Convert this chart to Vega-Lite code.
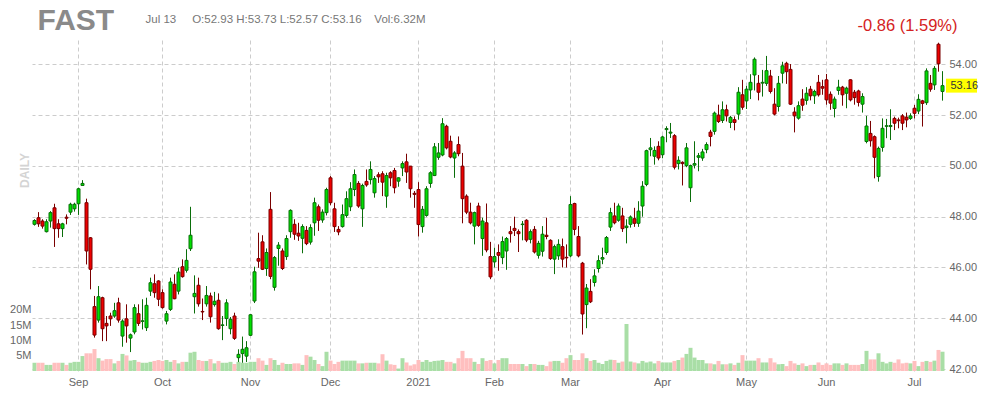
{
  "$schema": "https://vega.github.io/schema/vega-lite/v6.json",
  "width": 913,
  "height": 331,
  "autosize": {"type": "none"},
  "padding": {"left": 32, "top": 40, "right": 45, "bottom": 29},
  "background": "#ffffff",
  "config": {"font": "Liberation Sans", "view": {"stroke": null}},
  "data": {"values": [
    {"d":"2020-08-17","o":47.70,"h":47.90,"l":47.65,"c":47.85,"v":2.7},
    {"d":"2020-08-18","o":47.96,"h":48.18,"l":47.60,"c":47.72,"v":2.7},
    {"d":"2020-08-19","o":47.83,"h":47.90,"l":47.53,"c":47.63,"v":2.7},
    {"d":"2020-08-20","o":47.41,"h":47.90,"l":47.38,"c":47.80,"v":2.0},
    {"d":"2020-08-21","o":47.83,"h":48.22,"l":47.57,"c":48.16,"v":2.0},
    {"d":"2020-08-24","o":48.35,"h":48.51,"l":46.81,"c":47.53,"v":2.7},
    {"d":"2020-08-25","o":47.72,"h":47.90,"l":47.17,"c":47.53,"v":2.7},
    {"d":"2020-08-26","o":47.53,"h":47.76,"l":47.20,"c":47.72,"v":2.7},
    {"d":"2020-08-27","o":47.98,"h":48.09,"l":47.70,"c":47.94,"v":2.0},
    {"d":"2020-08-28","o":48.18,"h":48.55,"l":48.07,"c":48.49,"v":2.7},
    {"d":"2020-08-31","o":48.31,"h":48.55,"l":48.20,"c":48.49,"v":3.0},
    {"d":"2020-09-01","o":48.51,"h":49.14,"l":48.07,"c":49.10,"v":3.0},
    {"d":"2020-09-02","o":49.23,"h":49.44,"l":49.21,"c":49.31,"v":4.9},
    {"d":"2020-09-03","o":48.55,"h":48.71,"l":46.12,"c":46.65,"v":5.8},
    {"d":"2020-09-04","o":47.17,"h":47.20,"l":45.14,"c":45.93,"v":5.8},
    {"d":"2020-09-08","o":44.46,"h":44.88,"l":43.24,"c":43.34,"v":7.2},
    {"d":"2020-09-09","o":43.93,"h":45.27,"l":43.83,"c":44.85,"v":4.2},
    {"d":"2020-09-10","o":44.81,"h":44.85,"l":43.10,"c":43.59,"v":3.4},
    {"d":"2020-09-11","o":43.80,"h":44.09,"l":43.10,"c":43.70,"v":3.9},
    {"d":"2020-09-14","o":44.09,"h":44.22,"l":43.70,"c":43.98,"v":3.9},
    {"d":"2020-09-15","o":44.09,"h":44.61,"l":44.02,"c":44.30,"v":2.5},
    {"d":"2020-09-16","o":44.61,"h":44.81,"l":43.83,"c":43.93,"v":3.3},
    {"d":"2020-09-17","o":43.30,"h":43.96,"l":42.88,"c":43.89,"v":5.6},
    {"d":"2020-09-18","o":43.98,"h":44.55,"l":43.04,"c":43.70,"v":5.1},
    {"d":"2020-09-21","o":43.22,"h":43.40,"l":42.67,"c":43.35,"v":3.4},
    {"d":"2020-09-22","o":43.46,"h":44.55,"l":43.37,"c":44.42,"v":3.6},
    {"d":"2020-09-23","o":44.18,"h":44.55,"l":43.70,"c":43.80,"v":3.0},
    {"d":"2020-09-24","o":43.88,"h":44.75,"l":43.56,"c":43.90,"v":2.7},
    {"d":"2020-09-25","o":43.63,"h":44.81,"l":43.50,"c":44.51,"v":2.7},
    {"d":"2020-09-28","o":45.07,"h":45.60,"l":44.88,"c":45.40,"v":3.0},
    {"d":"2020-09-29","o":45.36,"h":45.73,"l":44.81,"c":45.01,"v":3.3},
    {"d":"2020-09-30","o":45.47,"h":45.50,"l":44.48,"c":44.75,"v":3.6},
    {"d":"2020-10-01","o":45.01,"h":45.14,"l":44.38,"c":44.42,"v":3.3},
    {"d":"2020-10-02","o":43.89,"h":44.29,"l":43.76,"c":44.18,"v":3.6},
    {"d":"2020-10-05","o":44.35,"h":45.60,"l":44.29,"c":45.43,"v":3.0},
    {"d":"2020-10-06","o":45.34,"h":45.73,"l":44.75,"c":44.77,"v":3.6},
    {"d":"2020-10-07","o":45.07,"h":45.99,"l":44.94,"c":45.82,"v":2.5},
    {"d":"2020-10-08","o":46.03,"h":46.32,"l":45.60,"c":45.64,"v":3.0},
    {"d":"2020-10-09","o":45.89,"h":46.72,"l":45.80,"c":46.28,"v":3.0},
    {"d":"2020-10-12","o":46.74,"h":48.39,"l":46.65,"c":47.27,"v":6.0},
    {"d":"2020-10-13","o":44.85,"h":45.69,"l":44.19,"c":44.98,"v":6.3},
    {"d":"2020-10-14","o":45.30,"h":45.60,"l":44.46,"c":44.57,"v":3.6},
    {"d":"2020-10-15","o":44.27,"h":44.78,"l":43.93,"c":44.25,"v":3.3},
    {"d":"2020-10-16","o":44.57,"h":45.27,"l":44.46,"c":44.90,"v":3.3},
    {"d":"2020-10-19","o":44.88,"h":45.01,"l":43.83,"c":44.06,"v":3.9},
    {"d":"2020-10-20","o":44.54,"h":45.04,"l":44.46,"c":44.67,"v":2.5},
    {"d":"2020-10-21","o":44.71,"h":44.98,"l":43.55,"c":43.59,"v":3.3},
    {"d":"2020-10-22","o":43.72,"h":44.09,"l":43.14,"c":43.74,"v":2.7},
    {"d":"2020-10-23","o":43.99,"h":44.75,"l":43.70,"c":44.61,"v":2.7},
    {"d":"2020-10-26","o":43.59,"h":44.05,"l":43.37,"c":43.96,"v":3.0},
    {"d":"2020-10-27","o":44.09,"h":44.22,"l":43.15,"c":43.21,"v":2.3},
    {"d":"2020-10-28","o":42.45,"h":42.78,"l":42.28,"c":42.58,"v":3.0},
    {"d":"2020-10-29","o":42.61,"h":43.28,"l":42.25,"c":42.78,"v":2.7},
    {"d":"2020-10-30","o":42.51,"h":43.10,"l":42.28,"c":42.84,"v":2.7},
    {"d":"2020-11-02","o":43.33,"h":44.16,"l":43.30,"c":44.14,"v":3.0},
    {"d":"2020-11-03","o":44.68,"h":46.03,"l":44.60,"c":45.83,"v":3.0},
    {"d":"2020-11-04","o":46.35,"h":47.37,"l":45.99,"c":46.25,"v":4.2},
    {"d":"2020-11-05","o":47.01,"h":47.27,"l":45.90,"c":45.93,"v":3.4},
    {"d":"2020-11-06","o":45.96,"h":46.75,"l":45.67,"c":46.59,"v":2.0},
    {"d":"2020-11-09","o":48.29,"h":48.97,"l":45.54,"c":45.65,"v":4.2},
    {"d":"2020-11-10","o":45.22,"h":46.45,"l":45.09,"c":46.39,"v":3.6},
    {"d":"2020-11-11","o":46.75,"h":47.00,"l":46.07,"c":46.88,"v":2.0},
    {"d":"2020-11-12","o":46.65,"h":46.75,"l":45.90,"c":45.96,"v":2.7},
    {"d":"2020-11-13","o":46.43,"h":47.27,"l":46.30,"c":47.14,"v":2.3},
    {"d":"2020-11-16","o":47.41,"h":48.29,"l":47.17,"c":48.25,"v":2.3},
    {"d":"2020-11-17","o":47.70,"h":47.90,"l":47.09,"c":47.31,"v":2.5},
    {"d":"2020-11-18","o":47.35,"h":47.76,"l":47.05,"c":47.24,"v":2.5},
    {"d":"2020-11-19","o":47.15,"h":47.70,"l":46.56,"c":47.61,"v":2.0},
    {"d":"2020-11-20","o":47.46,"h":47.63,"l":46.88,"c":46.94,"v":5.2},
    {"d":"2020-11-23","o":47.00,"h":47.70,"l":46.90,"c":47.57,"v":4.7},
    {"d":"2020-11-24","o":47.76,"h":48.75,"l":47.25,"c":48.55,"v":3.6},
    {"d":"2020-11-25","o":48.39,"h":48.48,"l":47.44,"c":47.86,"v":2.3},
    {"d":"2020-11-27","o":47.87,"h":48.29,"l":47.76,"c":48.18,"v":1.6},
    {"d":"2020-11-30","o":48.16,"h":49.14,"l":48.05,"c":49.07,"v":6.3},
    {"d":"2020-12-01","o":49.53,"h":49.60,"l":48.45,"c":48.55,"v":3.4},
    {"d":"2020-12-02","o":48.31,"h":48.55,"l":47.40,"c":47.61,"v":2.3},
    {"d":"2020-12-03","o":47.50,"h":47.63,"l":47.27,"c":47.40,"v":3.0},
    {"d":"2020-12-04","o":47.61,"h":48.48,"l":47.57,"c":48.08,"v":3.4},
    {"d":"2020-12-07","o":48.05,"h":49.00,"l":47.96,"c":48.71,"v":3.4},
    {"d":"2020-12-08","o":48.39,"h":49.36,"l":48.22,"c":49.10,"v":3.4},
    {"d":"2020-12-09","o":49.07,"h":49.86,"l":48.81,"c":49.66,"v":3.4},
    {"d":"2020-12-10","o":49.31,"h":49.40,"l":48.35,"c":48.42,"v":2.5},
    {"d":"2020-12-11","o":48.31,"h":49.30,"l":47.60,"c":49.23,"v":2.5},
    {"d":"2020-12-14","o":49.39,"h":49.86,"l":49.18,"c":49.25,"v":2.7},
    {"d":"2020-12-15","o":49.46,"h":50.18,"l":49.27,"c":49.86,"v":2.7},
    {"d":"2020-12-16","o":48.94,"h":49.60,"l":48.75,"c":49.50,"v":2.7},
    {"d":"2020-12-17","o":49.65,"h":49.75,"l":49.33,"c":49.57,"v":2.5},
    {"d":"2020-12-18","o":49.69,"h":49.79,"l":48.81,"c":49.36,"v":5.5},
    {"d":"2020-12-21","o":48.81,"h":49.73,"l":48.35,"c":49.62,"v":3.4},
    {"d":"2020-12-22","o":49.73,"h":49.79,"l":49.20,"c":49.53,"v":2.2},
    {"d":"2020-12-23","o":49.82,"h":49.92,"l":48.92,"c":49.14,"v":2.0},
    {"d":"2020-12-24","o":49.40,"h":49.55,"l":49.18,"c":49.53,"v":0.8},
    {"d":"2020-12-28","o":49.92,"h":50.18,"l":49.60,"c":50.09,"v":4.2},
    {"d":"2020-12-29","o":50.16,"h":50.48,"l":49.33,"c":49.76,"v":2.8},
    {"d":"2020-12-30","o":49.99,"h":50.00,"l":48.75,"c":49.10,"v":1.8},
    {"d":"2020-12-31","o":48.92,"h":49.01,"l":48.35,"c":48.88,"v":2.2},
    {"d":"2021-01-04","o":49.07,"h":49.36,"l":47.22,"c":47.69,"v":3.6},
    {"d":"2021-01-05","o":47.61,"h":48.42,"l":47.37,"c":48.29,"v":3.0},
    {"d":"2021-01-06","o":48.05,"h":49.20,"l":48.00,"c":49.10,"v":3.6},
    {"d":"2021-01-07","o":49.31,"h":49.79,"l":49.14,"c":49.73,"v":3.0},
    {"d":"2021-01-08","o":49.62,"h":50.90,"l":49.60,"c":50.75,"v":3.3},
    {"d":"2021-01-11","o":50.34,"h":50.90,"l":50.24,"c":50.51,"v":3.4},
    {"d":"2021-01-12","o":50.43,"h":51.88,"l":50.38,"c":51.66,"v":3.6},
    {"d":"2021-01-13","o":51.56,"h":51.62,"l":50.65,"c":50.71,"v":3.0},
    {"d":"2021-01-14","o":50.97,"h":51.19,"l":50.30,"c":50.35,"v":3.0},
    {"d":"2021-01-15","o":50.31,"h":50.58,"l":49.53,"c":50.51,"v":2.5},
    {"d":"2021-01-19","o":50.84,"h":51.16,"l":50.38,"c":50.48,"v":4.2},
    {"d":"2021-01-20","o":49.99,"h":50.51,"l":47.74,"c":48.71,"v":6.6},
    {"d":"2021-01-21","o":48.81,"h":48.88,"l":48.10,"c":48.18,"v":4.2},
    {"d":"2021-01-22","o":48.18,"h":48.55,"l":47.70,"c":47.76,"v":4.2},
    {"d":"2021-01-25","o":47.63,"h":48.20,"l":46.91,"c":48.16,"v":3.0},
    {"d":"2021-01-26","o":48.42,"h":48.55,"l":47.60,"c":47.66,"v":2.3},
    {"d":"2021-01-27","o":47.14,"h":47.96,"l":46.46,"c":47.83,"v":4.2},
    {"d":"2021-01-28","o":47.76,"h":48.52,"l":46.60,"c":46.69,"v":3.3},
    {"d":"2021-01-29","o":46.43,"h":47.01,"l":45.54,"c":45.63,"v":3.6},
    {"d":"2021-02-01","o":46.22,"h":46.78,"l":46.00,"c":46.43,"v":2.5},
    {"d":"2021-02-02","o":46.59,"h":46.91,"l":45.87,"c":46.48,"v":3.6},
    {"d":"2021-02-03","o":46.39,"h":47.22,"l":46.13,"c":47.02,"v":4.2},
    {"d":"2021-02-04","o":46.65,"h":47.20,"l":45.91,"c":47.14,"v":4.2},
    {"d":"2021-02-05","o":47.41,"h":47.63,"l":46.98,"c":47.33,"v":2.3},
    {"d":"2021-02-08","o":47.54,"h":48.00,"l":47.24,"c":47.46,"v":2.3},
    {"d":"2021-02-09","o":47.41,"h":47.50,"l":46.61,"c":47.33,"v":2.3},
    {"d":"2021-02-10","o":47.69,"h":47.83,"l":47.07,"c":47.71,"v":2.3},
    {"d":"2021-02-11","o":47.86,"h":47.90,"l":47.00,"c":47.08,"v":1.6},
    {"d":"2021-02-12","o":47.11,"h":47.50,"l":46.95,"c":47.41,"v":2.3},
    {"d":"2021-02-16","o":47.50,"h":47.63,"l":46.55,"c":46.61,"v":2.3},
    {"d":"2021-02-17","o":46.48,"h":47.05,"l":46.35,"c":46.95,"v":2.0},
    {"d":"2021-02-18","o":46.64,"h":47.63,"l":46.43,"c":47.31,"v":2.0},
    {"d":"2021-02-19","o":47.27,"h":47.96,"l":47.11,"c":47.22,"v":1.6},
    {"d":"2021-02-22","o":47.07,"h":47.11,"l":46.30,"c":46.35,"v":3.1},
    {"d":"2021-02-23","o":46.33,"h":46.90,"l":45.74,"c":46.82,"v":3.3},
    {"d":"2021-02-24","o":46.46,"h":47.11,"l":46.30,"c":46.91,"v":3.3},
    {"d":"2021-02-25","o":46.82,"h":47.14,"l":46.00,"c":46.33,"v":2.7},
    {"d":"2021-02-26","o":46.40,"h":46.91,"l":46.00,"c":46.38,"v":4.2},
    {"d":"2021-03-01","o":46.46,"h":48.81,"l":46.40,"c":48.48,"v":5.2},
    {"d":"2021-03-02","o":48.52,"h":48.55,"l":47.27,"c":47.50,"v":3.6},
    {"d":"2021-03-03","o":47.22,"h":47.63,"l":46.40,"c":46.46,"v":3.6},
    {"d":"2021-03-04","o":46.17,"h":46.22,"l":43.36,"c":44.17,"v":5.8},
    {"d":"2021-03-05","o":44.54,"h":45.35,"l":43.61,"c":45.19,"v":4.2},
    {"d":"2021-03-08","o":45.06,"h":45.54,"l":44.60,"c":44.65,"v":3.3},
    {"d":"2021-03-09","o":45.41,"h":45.93,"l":45.25,"c":45.67,"v":3.6},
    {"d":"2021-03-10","o":45.96,"h":46.48,"l":45.80,"c":46.27,"v":2.7},
    {"d":"2021-03-11","o":46.33,"h":46.78,"l":46.13,"c":46.39,"v":2.3},
    {"d":"2021-03-12","o":46.59,"h":47.24,"l":46.50,"c":47.18,"v":3.3},
    {"d":"2021-03-15","o":47.59,"h":48.35,"l":47.44,"c":48.16,"v":3.7},
    {"d":"2021-03-16","o":48.03,"h":48.55,"l":47.70,"c":47.76,"v":3.6},
    {"d":"2021-03-17","o":47.86,"h":48.52,"l":47.80,"c":48.42,"v":2.7},
    {"d":"2021-03-18","o":48.03,"h":48.35,"l":47.40,"c":47.53,"v":3.1},
    {"d":"2021-03-19","o":47.57,"h":47.90,"l":46.95,"c":47.63,"v":15.4},
    {"d":"2021-03-22","o":47.70,"h":48.05,"l":47.57,"c":47.99,"v":3.1},
    {"d":"2021-03-23","o":47.92,"h":48.35,"l":47.60,"c":47.74,"v":2.8},
    {"d":"2021-03-24","o":47.74,"h":48.61,"l":47.60,"c":48.22,"v":2.5},
    {"d":"2021-03-25","o":48.42,"h":49.40,"l":48.00,"c":49.20,"v":3.3},
    {"d":"2021-03-26","o":49.27,"h":50.64,"l":49.20,"c":50.60,"v":2.8},
    {"d":"2021-03-29","o":50.64,"h":51.10,"l":50.38,"c":50.71,"v":3.1},
    {"d":"2021-03-30","o":50.38,"h":50.77,"l":50.05,"c":50.61,"v":2.5},
    {"d":"2021-03-31","o":50.77,"h":50.97,"l":50.22,"c":50.31,"v":3.3},
    {"d":"2021-04-01","o":50.44,"h":51.19,"l":50.30,"c":51.14,"v":2.8},
    {"d":"2021-04-05","o":51.43,"h":51.56,"l":50.93,"c":51.47,"v":2.8},
    {"d":"2021-04-06","o":51.29,"h":51.69,"l":51.10,"c":51.33,"v":2.8},
    {"d":"2021-04-07","o":51.19,"h":51.25,"l":49.86,"c":49.95,"v":3.3},
    {"d":"2021-04-08","o":50.09,"h":50.38,"l":49.86,"c":50.22,"v":3.6},
    {"d":"2021-04-09","o":50.14,"h":50.18,"l":49.23,"c":50.09,"v":4.4},
    {"d":"2021-04-12","o":50.01,"h":50.90,"l":49.95,"c":50.71,"v":5.6},
    {"d":"2021-04-13","o":49.14,"h":50.05,"l":48.58,"c":50.01,"v":7.6},
    {"d":"2021-04-14","o":50.03,"h":50.97,"l":49.90,"c":50.09,"v":4.4},
    {"d":"2021-04-15","o":50.34,"h":50.51,"l":49.79,"c":50.40,"v":3.6},
    {"d":"2021-04-16","o":50.31,"h":50.67,"l":50.20,"c":50.55,"v":3.6},
    {"d":"2021-04-19","o":50.64,"h":50.93,"l":50.50,"c":50.84,"v":2.5},
    {"d":"2021-04-20","o":51.33,"h":51.42,"l":50.77,"c":51.16,"v":2.5},
    {"d":"2021-04-21","o":51.36,"h":52.14,"l":51.23,"c":52.08,"v":2.2},
    {"d":"2021-04-22","o":52.00,"h":52.41,"l":51.69,"c":51.75,"v":3.3},
    {"d":"2021-04-23","o":51.79,"h":52.54,"l":51.69,"c":52.21,"v":2.2},
    {"d":"2021-04-26","o":52.21,"h":52.41,"l":51.75,"c":51.97,"v":2.2},
    {"d":"2021-04-27","o":51.71,"h":51.97,"l":51.49,"c":51.91,"v":2.5},
    {"d":"2021-04-28","o":51.82,"h":51.95,"l":51.40,"c":51.71,"v":2.0},
    {"d":"2021-04-29","o":52.04,"h":53.10,"l":51.82,"c":52.90,"v":2.7},
    {"d":"2021-04-30","o":52.80,"h":53.39,"l":52.21,"c":52.31,"v":5.2},
    {"d":"2021-05-03","o":52.56,"h":53.15,"l":52.24,"c":53.02,"v":3.4},
    {"d":"2021-05-04","o":52.99,"h":53.61,"l":52.63,"c":53.29,"v":3.4},
    {"d":"2021-05-05","o":53.58,"h":54.27,"l":52.97,"c":54.20,"v":3.4},
    {"d":"2021-05-06","o":53.25,"h":53.58,"l":52.58,"c":52.90,"v":4.2},
    {"d":"2021-05-07","o":53.26,"h":53.78,"l":52.73,"c":53.29,"v":2.8},
    {"d":"2021-05-10","o":53.25,"h":54.33,"l":53.15,"c":53.75,"v":2.8},
    {"d":"2021-05-11","o":53.54,"h":53.78,"l":52.85,"c":52.93,"v":4.2},
    {"d":"2021-05-12","o":52.43,"h":53.06,"l":51.99,"c":52.04,"v":2.8},
    {"d":"2021-05-13","o":52.34,"h":53.54,"l":52.14,"c":53.25,"v":2.2},
    {"d":"2021-05-14","o":53.65,"h":54.10,"l":53.25,"c":53.94,"v":2.3},
    {"d":"2021-05-17","o":54.04,"h":54.10,"l":53.23,"c":53.71,"v":1.6},
    {"d":"2021-05-18","o":53.80,"h":54.01,"l":52.40,"c":52.43,"v":3.3},
    {"d":"2021-05-19","o":52.12,"h":52.31,"l":51.32,"c":51.97,"v":2.5},
    {"d":"2021-05-20","o":51.88,"h":52.54,"l":51.82,"c":52.37,"v":2.0},
    {"d":"2021-05-21","o":52.63,"h":53.02,"l":52.17,"c":52.39,"v":2.5},
    {"d":"2021-05-24","o":52.58,"h":53.10,"l":52.41,"c":52.86,"v":1.6},
    {"d":"2021-05-25","o":53.02,"h":53.15,"l":52.58,"c":52.76,"v":2.0},
    {"d":"2021-05-26","o":52.76,"h":53.00,"l":52.44,"c":52.93,"v":2.0},
    {"d":"2021-05-27","o":53.29,"h":53.58,"l":52.73,"c":52.80,"v":2.8},
    {"d":"2021-05-28","o":53.12,"h":53.39,"l":52.80,"c":53.06,"v":2.0},
    {"d":"2021-06-01","o":53.39,"h":53.62,"l":52.41,"c":52.60,"v":2.5},
    {"d":"2021-06-02","o":52.82,"h":52.93,"l":52.21,"c":52.47,"v":2.0},
    {"d":"2021-06-03","o":52.26,"h":52.73,"l":51.91,"c":52.63,"v":2.5},
    {"d":"2021-06-04","o":52.97,"h":53.39,"l":52.80,"c":53.10,"v":2.5},
    {"d":"2021-06-07","o":53.10,"h":53.15,"l":52.37,"c":52.80,"v":2.0},
    {"d":"2021-06-08","o":52.86,"h":53.12,"l":52.27,"c":53.06,"v":2.5},
    {"d":"2021-06-09","o":53.39,"h":53.41,"l":52.54,"c":52.60,"v":2.0},
    {"d":"2021-06-10","o":52.90,"h":52.99,"l":52.41,"c":52.69,"v":2.0},
    {"d":"2021-06-11","o":52.95,"h":53.00,"l":52.34,"c":52.50,"v":2.0},
    {"d":"2021-06-14","o":52.43,"h":52.86,"l":52.10,"c":52.73,"v":2.3},
    {"d":"2021-06-15","o":50.96,"h":51.97,"l":50.89,"c":51.57,"v":6.6},
    {"d":"2021-06-16","o":51.28,"h":51.77,"l":50.76,"c":50.99,"v":3.8},
    {"d":"2021-06-17","o":51.15,"h":51.20,"l":49.51,"c":50.34,"v":3.8},
    {"d":"2021-06-18","o":49.58,"h":50.76,"l":49.38,"c":50.69,"v":5.8},
    {"d":"2021-06-21","o":50.73,"h":51.87,"l":50.56,"c":51.48,"v":3.0},
    {"d":"2021-06-22","o":51.56,"h":51.85,"l":51.09,"c":51.58,"v":2.5},
    {"d":"2021-06-23","o":51.55,"h":52.23,"l":51.02,"c":51.59,"v":3.0},
    {"d":"2021-06-24","o":51.87,"h":51.94,"l":51.41,"c":51.68,"v":2.7},
    {"d":"2021-06-25","o":51.81,"h":51.90,"l":51.48,"c":51.78,"v":3.8},
    {"d":"2021-06-28","o":51.97,"h":52.04,"l":51.41,"c":51.68,"v":2.5},
    {"d":"2021-06-29","o":51.92,"h":52.10,"l":51.52,"c":51.81,"v":2.7},
    {"d":"2021-06-30","o":51.87,"h":52.07,"l":51.81,"c":51.97,"v":2.5},
    {"d":"2021-07-01","o":52.27,"h":52.40,"l":51.87,"c":52.07,"v":3.3},
    {"d":"2021-07-02","o":52.16,"h":52.82,"l":52.04,"c":52.62,"v":1.6},
    {"d":"2021-07-06","o":52.56,"h":52.60,"l":51.55,"c":52.46,"v":3.0},
    {"d":"2021-07-07","o":52.49,"h":53.84,"l":52.40,"c":53.74,"v":3.3},
    {"d":"2021-07-08","o":53.25,"h":53.58,"l":52.92,"c":53.02,"v":3.0},
    {"d":"2021-07-09","o":53.19,"h":53.93,"l":52.99,"c":53.84,"v":3.4},
    {"d":"2021-07-12","o":54.79,"h":54.85,"l":53.71,"c":54.02,"v":6.9},
    {"d":"2021-07-13","o":52.93,"h":53.73,"l":52.57,"c":53.16,"v":6.32}
  ]},
  "layer": [
    {
      "mark": {"type": "bar"},
      "encoding": {
        "x": {
          "field": "d", "type": "ordinal",
          "scale": {"type": "band", "paddingInner": 0, "paddingOuter": 0.125},
          "axis": {
            "orient": "bottom",
            "values": ["2020-09-01","2020-10-01","2020-11-02","2020-12-01","2021-01-04","2021-02-01","2021-03-01","2021-04-01","2021-05-03","2021-06-01","2021-07-01"],
            "labelExpr": "datum.value == '2021-01-04' ? '2021' : utcFormat(toDate(datum.value), '%b')",
            "bandPosition": 0.5,
            "labelAngle": 0,
            "labelOverlap": false,
            "labelColor": "#666666",
            "labelFontSize": 11,
            "labelPadding": 5,
            "grid": true,
            "gridColor": "#cccccc",
            "gridDash": [4, 3],
            "ticks": false,
            "domain": false,
            "title": "FAST",
            "titleFontSize": 30,
            "titleFontWeight": "bold",
            "titleColor": "#8a8a8a",
            "titleAngle": 0,
            "titleAlign": "left",
            "titleBaseline": "alphabetic",
            "titleX": 5,
            "titleY": -342
          }
        },
        "y": {
          "field": "v", "type": "quantitative",
          "scale": {"domain": [0, 108.5], "nice": false},
          "axis": {
            "orient": "left",
            "values": [5, 10, 15, 20],
            "labelExpr": "datum.value + 'M'",
            "labelColor": "#666666",
            "labelFontSize": 11,
            "labelPadding": 1,
            "grid": false,
            "ticks": false,
            "domain": false,
            "title": "DAILY",
            "titleAngle": 270,
            "titleColor": "#d4d4d4",
            "titleFontSize": 12,
            "titleFontWeight": "bold",
            "titleAlign": "center",
            "titleBaseline": "middle",
            "titleX": -8,
            "titleY": 130
          }
        },
        "color": {"condition": {"test": "datum.c >= datum.o", "value": "#a9dea6"}, "value": "#ffbfbf"}
      }
    },
    {
      "encoding": {
        "x": {
          "field": "d", "type": "ordinal",
          "scale": {"type": "band", "paddingInner": 0, "paddingOuter": 0.125},
          "axis": {
            "orient": "top",
            "labels": false,
            "grid": false,
            "ticks": false,
            "domain": false,
            "title": "Jul 13\u00a0\u00a0\u00a0\u00a0\u00a0O:52.93 H:53.73 L:52.57 C:53.16\u00a0\u00a0\u00a0\u00a0Vol:6.32M",
            "titleFontSize": 11.5,
            "titleFontWeight": "normal",
            "titleColor": "#777777",
            "titleAngle": 0,
            "titleAlign": "left",
            "titleBaseline": "alphabetic",
            "titleX": 113,
            "titleY": -18
          }
        }
      },
      "layer": [
        {
          "mark": {"type": "rule", "strokeWidth": 1},
          "encoding": {
            "y": {
              "field": "l", "type": "quantitative",
              "scale": {"domain": [41.925, 54.957], "nice": false, "zero": false},
              "axis": {
                "orient": "right",
                "values": [42, 44, 46, 48, 50, 52, 54],
                "format": ".2f",
                "labelColor": "#666666",
                "labelFontSize": 11,
                "labelPadding": 4,
                "grid": true,
                "gridColor": "#cccccc",
                "gridDash": [4, 3],
                "ticks": false,
                "domain": false,
                "title": "-0.86 (1.59%)",
                "titleFontSize": 16.5,
                "titleFontWeight": "normal",
                "titleColor": "#d42222",
                "titleAngle": 0,
                "titleAlign": "right",
                "titleBaseline": "alphabetic",
                "titleX": 12,
                "titleY": -10
              }
            },
            "y2": {"field": "h"},
            "color": {"condition": {"test": "datum.c >= datum.o", "value": "#0a6e0a"}, "value": "#7a0000"}
          }
        },
        {
          "mark": {"type": "bar", "width": 3, "strokeWidth": 1},
          "encoding": {
            "y": {"field": "o", "type": "quantitative", "scale": {"domain": [41.925, 54.957], "nice": false, "zero": false}},
            "y2": {"field": "c"},
            "fill": {"condition": {"test": "datum.c >= datum.o", "value": "#00e000"}, "value": "#ee0000"},
            "stroke": {"condition": {"test": "datum.c >= datum.o", "value": "#0a6e0a"}, "value": "#7a0000"}
          }
        },
        {
          "transform": [{"filter": "datum.d == '2021-07-13'"}],
          "mark": {"type": "point", "shape": "M-1,-0.45L1,-0.45L1,0.45L-1,0.45Z", "size": 961, "filled": true, "fill": "#ffff00", "opacity": 1, "strokeWidth": 0, "xOffset": 19},
          "encoding": {
            "y": {"field": "c", "type": "quantitative", "scale": {"domain": [41.925, 54.957], "nice": false, "zero": false}}
          }
        },
        {
          "transform": [{"filter": "datum.d == '2021-07-13'"}],
          "mark": {"type": "text", "align": "left", "baseline": "middle", "xOffset": 8, "fontSize": 11, "color": "#333333"},
          "encoding": {
            "y": {"field": "c", "type": "quantitative", "scale": {"domain": [41.925, 54.957], "nice": false, "zero": false}},
            "text": {"field": "c", "type": "quantitative", "format": ".2f"}
          }
        }
      ]
    }
  ],
  "resolve": {"scale": {"y": "independent"}, "axis": {"x": "independent"}}
}
